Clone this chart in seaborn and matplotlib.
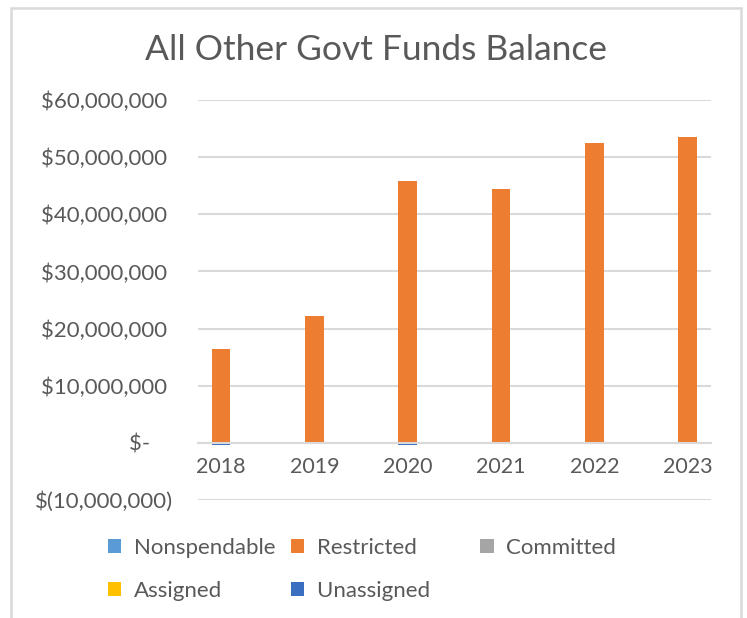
import matplotlib
matplotlib.use("Agg")
import matplotlib.pyplot as plt
from matplotlib.patches import Patch, Rectangle
from matplotlib.ticker import FuncFormatter, MultipleLocator
import seaborn as sns

# Fund balance by classification, fiscal years 2018-2023
years = ["2018", "2019", "2020", "2021", "2022", "2023"]
nonspendable = [0, 0, 0, 0, 0, 0]
restricted = [16_500_000, 22_200_000, 45_800_000, 44_500_000, 52_500_000, 53_500_000]
committed = [0, 0, 0, 0, 0, 0]
assigned = [0, 0, 0, 0, 0, 0]
unassigned = [-400_000, 0, -400_000, 0, 0, 0]

series_names = ["Nonspendable", "Restricted", "Committed", "Assigned", "Unassigned"]
series_values = [nonspendable, restricted, committed, assigned, unassigned]
series_colors = ["#5B9BD5", "#ED7D31", "#A5A5A5", "#FFC000", "#3A6FBF"]

title = "All Other Govt Funds Balance"

sns.set_theme(style="white")
plt.rcParams["font.family"] = ["Lato", "DejaVu Sans"]
text_color = "#595959"
grid_color = "#D9D9D9"

fig = plt.figure(figsize=(7.47, 6.18), dpi=100)
ax = fig.add_axes([0.2651, 0.1909, 0.6867, 0.6472])

for name, vals, color in zip(series_names, series_values, series_colors):
    sns.barplot(x=years, y=vals, order=years, color=color, width=0.2,
                saturation=1, errorbar=None, linewidth=0, ax=ax)

ax.set_xlim(-0.246, 5.25)
ax.set_ylim(-10_000_000, 60_000_000)
ax.yaxis.set_major_locator(MultipleLocator(10_000_000))


def money(v, _pos):
    if abs(v) < 1:
        return "$-    "
    if v < 0:
        return f"$({-v:,.0f})"
    return f"${v:,.0f} "


ax.yaxis.set_major_formatter(FuncFormatter(money))
ax.grid(axis="y", color=grid_color, linewidth=1.5)
ax.set_axisbelow(True)
for side in ("left", "right", "top"):
    ax.spines[side].set_visible(False)
ax.spines["bottom"].set_position(("data", 0))
ax.spines["bottom"].set_color(grid_color)
ax.spines["bottom"].set_linewidth(1.5)
ax.tick_params(axis="y", length=0, pad=18, labelsize=16, labelcolor=text_color)
ax.tick_params(axis="x", length=0, pad=10, labelsize=15.5, labelcolor=text_color)
ax.set_xlabel("")
ax.set_ylabel("")

fig.suptitle(title, x=0.503, y=0.919, va="center", fontsize=25.5, color=text_color)

# legend filled column-wise: Nonspendable/Assigned, Restricted/Unassigned, Committed;
# the middle column is padded so the third column sits further right
order = [0, 3, 1, 4, 2]
handles = [Patch(facecolor=series_colors[i], edgecolor="none") for i in order]
labels = [series_names[i] + ("      " if i in (1, 4) else "") for i in order]
fig.legend(handles, labels, ncol=3, loc="upper left",
           bbox_to_anchor=(0.1446, 0.130), frameon=False, fontsize=16,
           labelcolor=text_color, handlelength=0.6, handleheight=0.6,
           handletextpad=0.55, columnspacing=0.72, labelspacing=1.06,
           borderpad=0, borderaxespad=0)

# chart area border
fig.patches.append(Rectangle((11 / 747, -0.02), 730 / 747, 1 - 8 / 618 + 0.02,
                             transform=fig.transFigure, fill=False,
                             edgecolor=grid_color, linewidth=1.8, clip_on=False))

fig.savefig("out.png", dpi=100)
